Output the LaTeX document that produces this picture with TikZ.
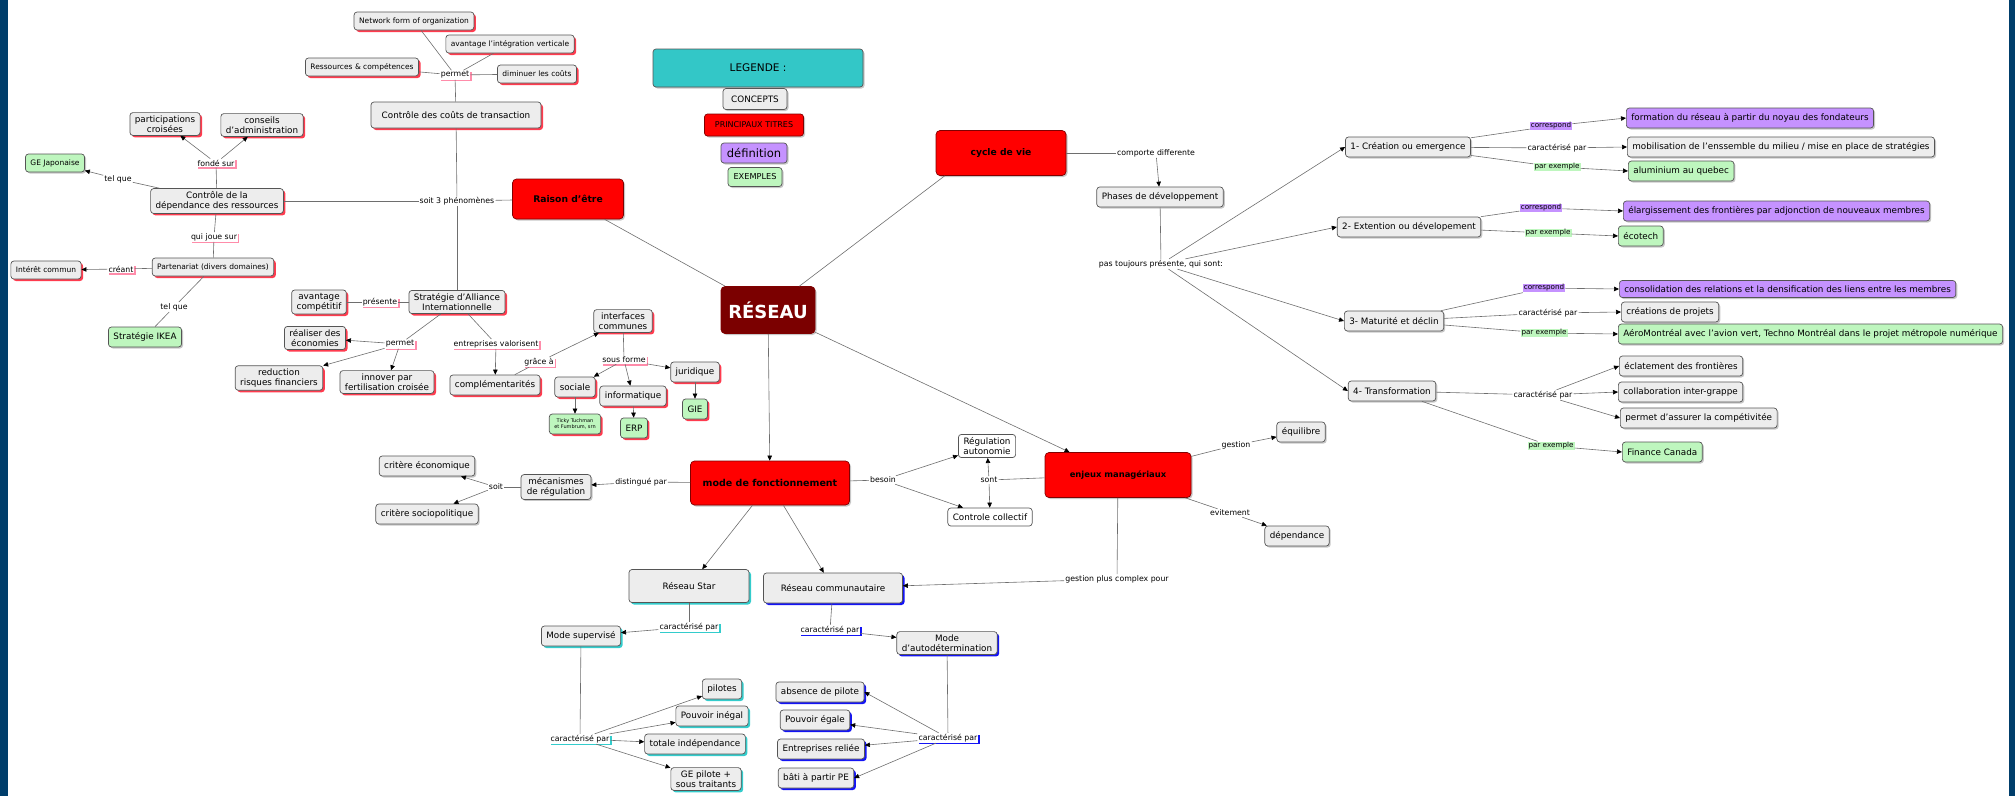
\documentclass[tikz,border=0pt]{standalone}
\usepackage{fontspec}
\setmainfont{DejaVu Sans}
\usetikzlibrary{arrows.meta,shadows}

\definecolor{fondgris}{HTML}{EDEDED}
\definecolor{bord}{HTML}{555555}
\definecolor{titrerouge}{HTML}{FF0000}
\definecolor{reseaurouge}{HTML}{7B0000}
\definecolor{ombrerouge}{HTML}{FF3B4E}
\definecolor{ombrerose}{HTML}{FF8CAA}
\definecolor{defviolet}{HTML}{C592FF}
\definecolor{exvert}{HTML}{BEF6BE}
\definecolor{legturq}{HTML}{33C7C7}
\definecolor{ombreturq}{HTML}{33CCCC}
\definecolor{ombrebleu}{HTML}{1414F5}
\definecolor{cadre}{HTML}{003E6B}
\definecolor{trait}{HTML}{6E6E6E}

\begin{document}
\begin{tikzpicture}
  [x=1pt,y=-1pt,every node/.style={font=\fontsize{8.8}{10}\selectfont},
   >={Triangle[length=5pt,width=4.5pt,color=black]}]
  \tikzstyle{concept} = [draw=bord,line width=.7pt,rounded corners=3pt,fill=fondgris,inner xsep=5pt,inner ysep=3pt,minimum height=20pt,align=center]
  \tikzstyle{petit} = [font=\fontsize{7.5}{9}\selectfont,minimum height=18pt]
  \tikzstyle{orouge} = [drop shadow={shadow xshift=2pt,shadow yshift=-2pt,fill=ombrerouge,opacity=1}]
  \tikzstyle{ogris} = [drop shadow={shadow xshift=1.5pt,shadow yshift=-1.5pt,fill=black!22,opacity=1}]
  \tikzstyle{oturq} = [drop shadow={shadow xshift=2pt,shadow yshift=-2pt,fill=ombreturq,opacity=1}]
  \tikzstyle{obleu} = [drop shadow={shadow xshift=2pt,shadow yshift=-2pt,fill=ombrebleu,opacity=1}]
  \tikzstyle{titre} = [concept,ogris,draw=red!50!black,fill=titrerouge,rounded corners=4pt,font=\fontsize{9.2}{11}\bfseries\selectfont]
  \tikzstyle{defi} = [concept,ogris,fill=defviolet]
  \tikzstyle{exemple} = [concept,fill=exvert]
  \tikzstyle{lien} = [fill=white,inner xsep=1pt,inner ysep=1pt,font=\fontsize{7.8}{9}\selectfont]
  \tikzstyle{lrose} = [lien,drop shadow={shadow xshift=1.5pt,shadow yshift=-1.5pt,fill=ombrerose,opacity=1}]
  \tikzstyle{lturq} = [lien,drop shadow={shadow xshift=1.5pt,shadow yshift=-1.5pt,fill=ombreturq,opacity=1}]
  \tikzstyle{lbleu} = [lien,drop shadow={shadow xshift=1.5pt,shadow yshift=-1.5pt,fill=ombrebleu,opacity=1}]
  \tikzstyle{lviolet} = [lien,fill=defviolet,font=\fontsize{7.2}{8}\selectfont]
  \tikzstyle{lvert} = [lien,fill=exvert,font=\fontsize{7.2}{8}\selectfont]
  \tikzstyle{ln} = [draw=trait,line width=.6pt]

  \useasboundingbox (0,0) rectangle (2015,796);
  \fill[cadre] (0,0) rectangle (8,796);
  \fill[cadre] (2009,0) rectangle (2015,796);

  % raison d'etre
  \node[concept,petit,orouge] (netw) at (414,21) {Network form of organization};
  \node[concept,petit,orouge] (avint) at (510,44) {avantage l'intégration verticale};
  \node[concept,petit,orouge] (ressc) at (362,67) {Ressources \& compétences};
  \node[concept,petit,orouge] (dimc) at (537,74) {diminuer les coûts};
  \node[lrose] (lpermA) at (455,75) {permet};
  \node[concept,orouge,minimum width=170pt,minimum height=26pt] (ccout) at (456,115) {Contrôle des coûts de transaction};
  \node[concept,orouge] (partc) at (165,124) {participations\\croisées};
  \node[concept,orouge] (consa) at (262,125) {conseils\\d'administration};
  \node[lrose] (lfonde) at (216,163) {fondé sur};
  \node[exemple,petit,ogris] (gejap) at (55,163) {GE Japonaise};
  \node[lien] (ltelA) at (118,179) {tel que};
  \node[concept,orouge] (cdep) at (217,201) {Contrôle de la\\dépendance des ressources};
  \node[lien] (l3ph) at (457,201) {soit 3 phénomènes};
  \node[titre,minimum width=111pt,minimum height=40pt] (raison) at (568,199) {Raison d'être};
  \node[lrose] (ljoue) at (214,237) {qui joue sur};
  \node[concept,petit,orouge] (parten) at (213,267) {Partenariat (divers domaines)};
  \node[concept,petit,orouge] (intc) at (46,270) {Intérêt commun};
  \node[lrose] (lcreant) at (121,269) {créant};
  \node[lien] (ltelB) at (174,307) {tel que};
  \node[exemple,ogris] (ikea) at (145,337) {Stratégie IKEA};
  \node[concept,orouge] (avcomp) at (319,302) {avantage\\compétitif};
  \node[lrose] (lpres) at (380,302) {présente};
  \node[concept,orouge] (stall) at (457,302) {Stratégie d'Alliance\\Internationnelle};
  \node[concept,orouge] (reco) at (315,338) {réaliser des\\économies};
  \node[lrose] (lpermB) at (400,344) {permet};
  \node[lrose] (lvalo) at (496,344) {entreprises valorisent};
  \node[concept,orouge] (redu) at (279,378) {reduction\\risques financiers};
  \node[concept,orouge] (innov) at (387,382) {innover par\\fertilisation croisée};
  \node[concept,orouge] (compl) at (495,385) {complémentarités};
  \node[lrose] (lgrace) at (539,362) {grâce à};
  \node[concept,orouge] (interf) at (623,321) {interfaces\\communes};
  \node[lrose] (lsous) at (624,360) {sous forme};
  \node[concept,orouge] (jurid) at (695,372) {juridique};
  \node[concept,orouge] (soc) at (575,387) {sociale};
  \node[concept,orouge] (info) at (633,396) {informatique};
  \node[exemple,orouge] (gie) at (695,409) {GIE};
  \node[exemple,orouge] (erp) at (634,428) {ERP};
  \node[exemple,orouge,font=\fontsize{5}{5.5}\selectfont] (ticky) at (575,424) {Ticky Tuchman\\et Fumbrum, srn};

  % legende
  \node[concept,ogris,fill=legturq,minimum width=210pt,minimum height=38pt,font=\fontsize{10.5}{12}\selectfont] (leg) at (758,68) {LEGENDE :};
  \node[concept,ogris,minimum width=64pt,minimum height=21pt] (lcon) at (755,99) {CONCEPTS};
  \node[concept,ogris,fill=titrerouge,draw=red!50!black,minimum width=99pt,minimum height=22pt,font=\fontsize{8}{9}\selectfont] (ltit) at (754,125) {PRINCIPAUX TITRES};
  \node[defi,minimum width=66pt,minimum height=20pt,font=\fontsize{11.5}{13}\selectfont] (ldef) at (754,153) {définition};
  \node[exemple,ogris,minimum width=54pt,minimum height=19pt,font=\fontsize{8.2}{9}\selectfont] (lex) at (755,177) {EXEMPLES};

  % centre
  \node[titre,fill=reseaurouge,text=white,minimum width=94pt,minimum height=47pt,font=\fontsize{18}{20}\bfseries\selectfont] (res) at (768,310) {RÉSEAU};
  \node[titre,minimum width=130pt,minimum height=45pt] (cycle) at (1001,153) {cycle de vie};
  \node[titre,minimum width=159pt,minimum height=44pt,font=\fontsize{9.5}{11}\bfseries\selectfont] (mode) at (770,483) {mode de fonctionnement};
  \node[titre,minimum width=146pt,minimum height=45pt,font=\fontsize{8.4}{10}\bfseries\selectfont] (enj) at (1118,475) {enjeux managériaux};

  % mode de fonctionnement
  \node[concept,ogris,minimum width=70pt] (mecan) at (556,487) {mécanismes\\de régulation};
  \node[lien] (ldist) at (641,482) {distingué par};
  \node[lien] (lsoit) at (496,487) {soit};
  \node[concept,ogris] (crieco) at (427,466) {critère économique};
  \node[concept,ogris] (crisoc) at (427,514) {critère sociopolitique};
  \node[lien] (lbes) at (883,480) {besoin};
  \node[concept,fill=white] (regaut) at (987,446) {Régulation\\autonomie};
  \node[lien] (lsont) at (989,480) {sont};
  \node[concept,fill=white,minimum height=18pt] (ctrcol) at (990,517) {Controle collectif};
  \node[lien] (lgest) at (1236,445) {gestion};
  \node[concept,ogris] (equi) at (1301,432) {équilibre};
  \node[lien] (levit) at (1230,513) {evitement};
  \node[concept,ogris] (dep) at (1297,536) {dépendance};
  \node[lien] (lcomplex) at (1117,579) {gestion plus complex pour};
  \node[concept,oturq,minimum width=120pt,minimum height=33pt] (star) at (689,586) {Réseau Star};
  \node[concept,obleu,minimum width=139pt,minimum height=30pt] (comm) at (833,588) {Réseau communautaire};
  \node[lturq] (lcarS) at (689,627) {caractérisé par};
  \node[concept,oturq] (modsup) at (581,636) {Mode supervisé};
  \node[lbleu] (lcarC) at (830,630) {caractérisé par};
  \node[concept,obleu] (modaut) at (947,643) {Mode\\d'autodétermination};
  \node[lturq] (lcarS2) at (580,739) {caractérisé par};
  \node[concept,oturq] (pil) at (722,689) {pilotes};
  \node[concept,oturq] (pineg) at (712,716) {Pouvoir inégal};
  \node[concept,oturq] (totind) at (695,744) {totale indépendance};
  \node[concept,oturq] (gepil) at (706,779) {GE pilote +\\sous traitants};
  \node[lbleu] (lcarC2) at (948,738) {caractérisé par};
  \node[concept,obleu] (absp) at (820,692) {absence de pilote};
  \node[concept,obleu] (pegal) at (815,720) {Pouvoir égale};
  \node[concept,obleu] (entrel) at (821,749) {Entreprises reliée};
  \node[concept,obleu] (bati) at (816,778) {bâti à partir PE};

  % cycle de vie
  \node[lien] (lcomp) at (1156,153) {comporte differente};
  \node[concept,ogris] (phases) at (1160,197) {Phases de développement};
  \node[lien] (lpas) at (1161,264) {pas toujours présente, qui sont:};
  \node[concept,ogris] (ph1) at (1408,147) {1- Création ou emergence};
  \node[concept,ogris] (ph2) at (1409,227) {2- Extention ou dévelopement};
  \node[concept,ogris] (ph3) at (1394,321) {3- Maturité et déclin};
  \node[concept,ogris] (ph4) at (1392,391) {4- Transformation};
  \node[lviolet] (lcor1) at (1551,126) {correspond};
  \node[defi,anchor=west] (form) at (1626,118) {formation du réseau à partir du noyau des fondateurs};
  \node[lien] (lcar1) at (1557,148) {caractérisé par};
  \node[concept,ogris,anchor=west] (mobil) at (1627,147) {mobilisation de l'enssemble du milieu / mise en place de stratégies};
  \node[lvert] (lex1) at (1557,167) {par exemple};
  \node[exemple,ogris,anchor=west] (alu) at (1628,171) {aluminium au quebec};
  \node[lviolet] (lcor2) at (1541,208) {correspond};
  \node[defi,anchor=west] (elarg) at (1623,211) {élargissement des frontières par adjonction de nouveaux membres};
  \node[lvert] (lex2) at (1548,233) {par exemple};
  \node[exemple,ogris,anchor=west] (ecot) at (1618,236) {écotech};
  \node[lviolet] (lcor3) at (1544,288) {correspond};
  \node[defi,anchor=west,minimum height=17pt] (conso) at (1619,289) {consolidation des relations et la densification des liens entre les membres};
  \node[lien] (lcar3) at (1548,313) {caractérisé par};
  \node[concept,ogris,anchor=west] (creat) at (1621,312) {créations de projets};
  \node[lvert] (lex3) at (1544,333) {par exemple};
  \node[exemple,ogris,anchor=west] (aero) at (1618,334) {AéroMontréal avec l'avion vert, Techno Montréal dans le projet métropole numérique};
  \node[concept,ogris,anchor=west] (eclat) at (1619,366) {éclatement des frontières};
  \node[lien] (lcar4) at (1543,395) {caractérisé par};
  \node[concept,ogris,anchor=west] (collab) at (1618,392) {collaboration inter-grappe};
  \node[concept,ogris,anchor=west] (perass) at (1620,418) {permet d'assurer la compétivitée};
  \node[lvert] (lex4) at (1551,446) {par exemple};
  \node[exemple,ogris,anchor=west] (finca) at (1622,452) {Finance Canada};

  % traits simples
  \foreach \source/\dest in {res/raison, l3ph/raison, l3ph/cdep, l3ph/ccout, l3ph/stall,
    lpermA/netw, lpermA/avint, lpermA/ressc, lpermA/dimc, lpermA/ccout,
    cdep/lfonde, cdep/ltelA, cdep/ljoue, ljoue/parten, parten/lcreant, parten/ltelB,
    ltelB/ikea, stall/lpres, lpres/avcomp, stall/lpermB, stall/lvalo, compl/lgrace,
    interf/lsous, cycle/lcomp, phases/lpas, mode/ldist, mecan/lsoit, mode/lbes,
    enj/lsont, enj/lgest, enj/levit, enj/lcomplex, star/lcarS, comm/lcarC,
    modsup/lcarS2, modaut/lcarC2, ph1/lcor1, ph1/lcar1, ph1/lex1, ph2/lcor2, ph2/lex2,
    ph3/lcor3, ph3/lcar3, ph3/lex3, ph4/lcar4, ph4/lex4}
    \draw[ln] (\source) -- (\dest);
  \draw[ln] (res) -- ([xshift=9pt]cycle.south west);

  % fleches
  \foreach \source/\dest in {res/mode, res/enj, mode/star, mode/comm,
    lfonde/partc, lfonde/consa, ltelA/gejap, lcreant/intc, lpermB/reco, lpermB/redu,
    lpermB/innov, lvalo/compl, lgrace/interf, lsous/soc, lsous/info, lsous/jurid,
    soc/ticky, info/erp, jurid/gie, lcomp/phases,
    lpas/ph1.west, lpas/ph2.west, lpas/ph3.west, lpas/ph4.west,
    lcor1/form.west, lcar1/mobil.west, lex1/alu.west, lcor2/elarg.west, lex2/ecot.west,
    lcor3/conso.west, lcar3/creat.west, lex3/aero.west, lcar4/eclat.west,
    lcar4/collab.west, lcar4/perass.west, lex4/finca.west,
    ldist/mecan, lsoit/crieco, lsoit/crisoc, lbes/regaut, lbes/ctrcol, lsont/regaut,
    lsont/ctrcol, lgest/equi, levit/dep, lcomplex/comm, lcarS/modsup, lcarC/modaut,
    lcarS2/pil, lcarS2/pineg, lcarS2/totind, lcarS2/gepil,
    lcarC2/absp.east, lcarC2/pegal, lcarC2/entrel, lcarC2/bati.east}
    \draw[ln,->] (\source) -- (\dest);
\end{tikzpicture}
\end{document}
